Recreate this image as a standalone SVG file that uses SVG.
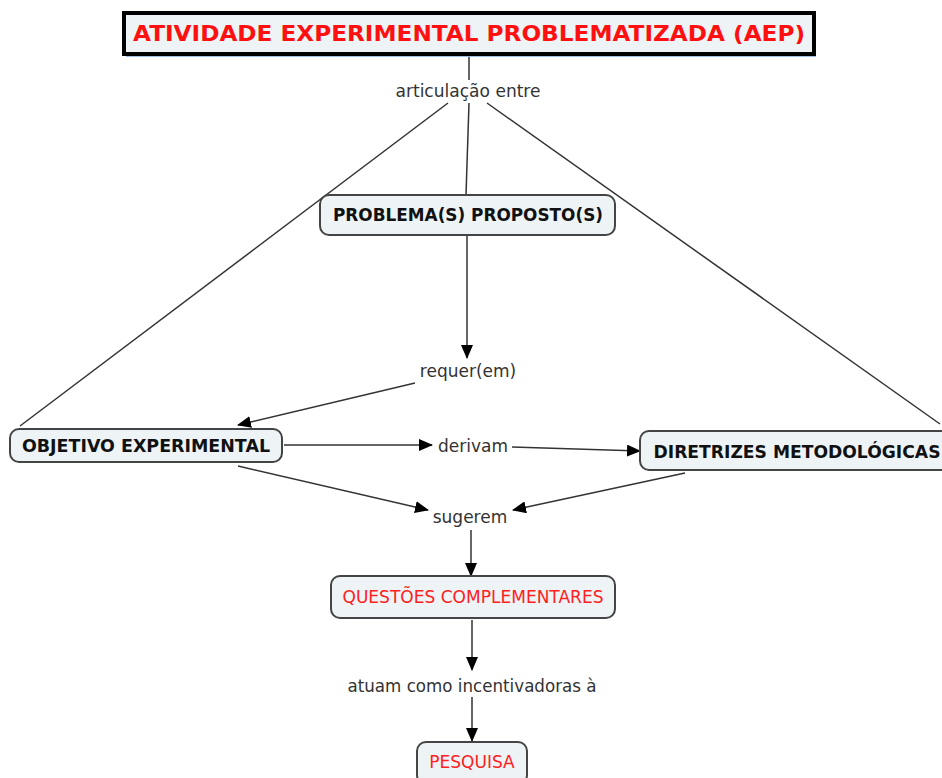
<svg xmlns="http://www.w3.org/2000/svg" width="942" height="778" viewBox="0 0 942 778">
<style>
.box{fill:#eef4f6;stroke:#444;stroke-width:2}
.bt{font-family:"DejaVu Sans",Verdana,sans-serif;font-weight:bold;font-size:17px;fill:#111;text-anchor:middle}
.rt{font-family:"DejaVu Sans",Verdana,sans-serif;font-size:17px;fill:#ff2020;text-anchor:middle}
.lb{font-family:"DejaVu Sans",Verdana,sans-serif;font-size:17px;fill:#333;text-anchor:middle}
.ln{stroke:#333;stroke-width:1.5;fill:none}
.ar{stroke:#333;stroke-width:1.5;fill:none;marker-end:url(#ah)}
</style>
<defs>
<marker id="ah" markerWidth="14" markerHeight="12" refX="13" refY="6" orient="auto" markerUnits="userSpaceOnUse">
<path d="M0,0 L14,6 L0,12 z" fill="#000"/>
</marker>
</defs>
<rect width="942" height="778" fill="#fff"/>
<g id="connectors">
<line class="ln" x1="469" y1="57" x2="469" y2="80"/>
<line class="ln" x1="448" y1="103" x2="20" y2="426"/>
<line class="ln" x1="469" y1="103" x2="466" y2="195"/>
<line class="ln" x1="487" y1="103" x2="940" y2="424"/>
<line class="ar" x1="467" y1="236" x2="467" y2="358"/>
<line class="ar" x1="415" y1="383" x2="238" y2="425"/>
<line class="ar" x1="284" y1="445" x2="432" y2="445"/>
<line class="ar" x1="512" y1="447" x2="640" y2="451"/>
<line class="ar" x1="238" y1="466" x2="428" y2="510"/>
<line class="ar" x1="685" y1="473" x2="513" y2="510"/>
<line class="ar" x1="471" y1="530" x2="471" y2="576"/>
<line class="ar" x1="472" y1="620" x2="472" y2="670"/>
<line class="ar" x1="472" y1="697" x2="472" y2="741"/>
</g>
<g id="title">
<rect x="126" y="16" width="690" height="41" fill="#5b8fd8" opacity="0.6"/>
<rect x="124" y="13" width="690" height="41" fill="#eef4f6" stroke="#000" stroke-width="4"/>
<text x="469" y="41" font-family="'DejaVu Sans',Verdana,sans-serif" font-weight="bold" font-size="22" fill="#ff1010" text-anchor="middle" textLength="672" lengthAdjust="spacingAndGlyphs">ATIVIDADE EXPERIMENTAL PROBLEMATIZADA (AEP)</text>
</g>
<g id="lbl-articulacao"><text class="lb" x="468" y="97" textLength="145" lengthAdjust="spacingAndGlyphs">articulação entre</text></g>
<g id="problema">
<rect class="box" x="320" y="195" width="295" height="40" rx="9"/>
<text class="bt" x="468" y="221" textLength="270" lengthAdjust="spacingAndGlyphs">PROBLEMA(S) PROPOSTO(S)</text>
</g>
<g id="lbl-requer"><text class="lb" x="468" y="377">requer(em)</text></g>
<g id="objetivo">
<rect class="box" x="10" y="429" width="272" height="33" rx="9"/>
<text class="bt" x="146" y="452" textLength="248" lengthAdjust="spacingAndGlyphs">OBJETIVO EXPERIMENTAL</text>
</g>
<g id="lbl-derivam"><text class="lb" x="473" y="452">derivam</text></g>
<g id="diretrizes">
<rect class="box" x="640" y="431" width="310" height="39" rx="9"/>
<text class="bt" x="797" y="458" textLength="287" lengthAdjust="spacingAndGlyphs">DIRETRIZES METODOLÓGICAS</text>
</g>
<g id="lbl-sugerem"><text class="lb" x="470" y="523">sugerem</text></g>
<g id="questoes">
<rect class="box" x="331" y="576" width="284" height="42" rx="9"/>
<text class="rt" x="473" y="603" textLength="261" lengthAdjust="spacingAndGlyphs">QUESTÕES COMPLEMENTARES</text>
</g>
<g id="lbl-atuam"><text class="lb" x="472" y="692" textLength="249" lengthAdjust="spacingAndGlyphs">atuam como incentivadoras à</text></g>
<g id="pesquisa">
<rect class="box" x="417" y="742" width="110" height="42" rx="9"/>
<text class="rt" x="472" y="768">PESQUISA</text>
</g>
</svg>
